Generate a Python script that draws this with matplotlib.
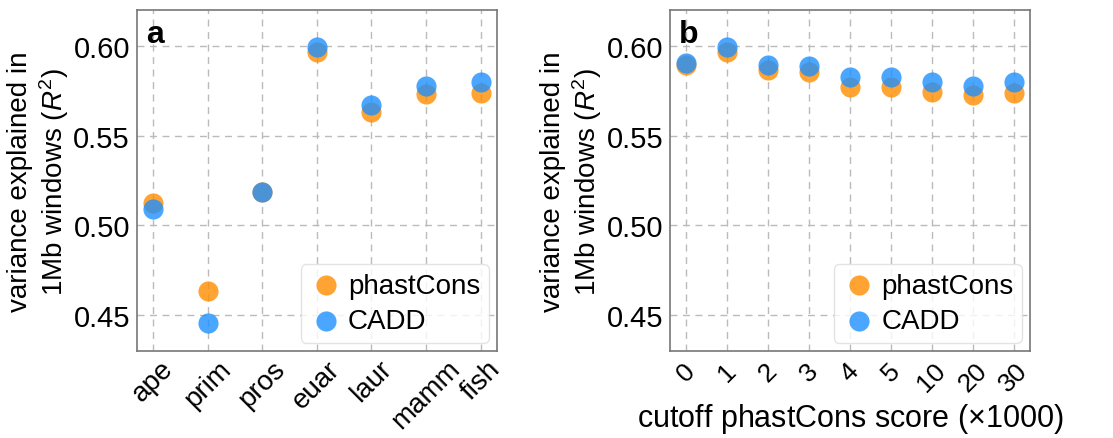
import matplotlib
matplotlib.use('Agg')
import matplotlib.pyplot as plt
import numpy as np

plt.rcParams['font.family'] = ['Liberation Sans', 'DejaVu Sans']
plt.rcParams['mathtext.fontset'] = 'custom'
plt.rcParams['mathtext.rm'] = 'Liberation Sans'
plt.rcParams['mathtext.it'] = 'Liberation Sans:italic'

# panel a: conservation tracks
groups = ['ape', 'prim', 'pros', 'euar', 'laur', 'mamm', 'fish']
phast_a = [0.5125, 0.4637, 0.5186, 0.5968, 0.5633, 0.5732, 0.5740]
cadd_a = [0.5093, 0.4459, 0.5186, 0.5996, 0.5670, 0.5778, 0.5797]

# panel b: cutoff scores
cutoffs = ['0', '1', '2', '3', '4', '5', '10', '20', '30']
phast_b = [0.5894, 0.5966, 0.5866, 0.5853, 0.5773, 0.5773, 0.5745, 0.5726, 0.5735]
cadd_b = [0.5903, 0.5996, 0.5894, 0.5888, 0.5827, 0.5825, 0.5801, 0.5778, 0.5801]

ylabel = 'variance explained in\n1Mb windows ($R^2$)'

fig = plt.figure(figsize=(11.13, 4.39), dpi=100)
ax_a = fig.add_axes([0.123, 0.198, 0.3235, 0.777])
ax_b = fig.add_axes([0.602, 0.198, 0.3235, 0.777])

panels = [
    (ax_a, groups, phast_a, cadd_a, 'a', (-0.3, 6.3)),
    (ax_b, cutoffs, phast_b, cadd_b, 'b', (-0.4, 8.4)),
]

for ax, labels, ph, cd, tag, xl in panels:
    x = np.arange(len(labels))
    ax.scatter(x, ph, s=210, color='darkorange', alpha=0.8, lw=0,
               label='phastCons', zorder=3)
    ax.scatter(x, cd, s=210, color='dodgerblue', alpha=0.8, lw=0,
               label='CADD', zorder=4)
    ax.set_xlim(*xl)
    ax.set_ylim(0.43, 0.62)
    ax.set_yticks([0.45, 0.50, 0.55, 0.60])
    ax.set_yticklabels(['0.45', '0.50', '0.55', '0.60'])
    ax.set_xticks(x)
    ax.set_xticklabels(labels, rotation=45)
    ax.tick_params(length=0, labelsize=21, pad=5)
    ax.grid(True, ls=(0, (5, 4)), color='#bbbbbb', lw=1)
    ax.set_axisbelow(True)
    for s in ax.spines.values():
        s.set_color('#777777')
        s.set_linewidth(1.2)
    ax.set_ylabel(ylabel, fontsize=20, labelpad=2, linespacing=1.15)
    ax.text(0.025, 0.975, tag, transform=ax.transAxes, fontsize=23,
            fontweight='bold', va='top', ha='left')
    leg = ax.legend(loc='lower right', fontsize=20, frameon=True,
                    handletextpad=0.2, borderpad=0.3, labelspacing=0.35,
                    handlelength=1.2, borderaxespad=0.3)
    leg.get_frame().set_edgecolor('#dddddd')
    leg.get_frame().set_alpha(0.8)

for lbl in ax_a.get_xticklabels():
    lbl.set_ha('center')
    lbl.set_va('top')
ax_a.tick_params(axis='x', labelsize=20, pad=3)
ax_b.tick_params(axis='x', labelsize=19)
ax_b.set_xlabel('cutoff phastCons score ($\\times$1000)', fontsize=22,
                labelpad=4)

fig.savefig('out.png', dpi=100)
